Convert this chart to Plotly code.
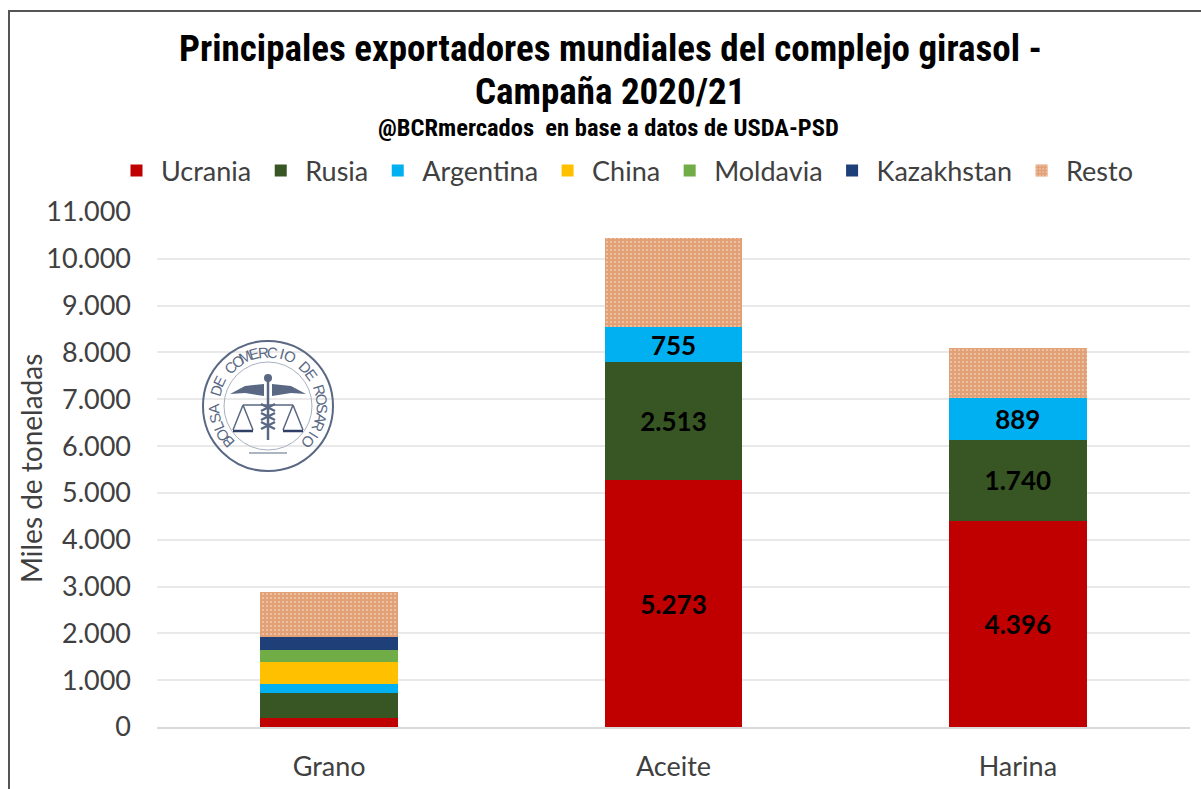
import math
import plotly.graph_objects as go

categories = ["Grano", "Aceite", "Harina"]
ucrania = [200, 5273, 4396]
rusia = [530, 2513, 1740]
argentina = [190, 755, 889]
china = [475, 0, 0]
moldavia = [255, 0, 0]
kazakhstan = [270, 0, 0]
resto = [970, 1904, 1070]
labels_ucrania = ["", "5.273", "4.396"]
labels_rusia = ["", "2.513", "1.740"]
labels_argentina = ["", "755", "889"]
y_ticks = list(range(0, 11001, 1000))

W, H = 1201, 789
L, R, T, B = 157, 11, 212, 62
PW, PH = W - L - R, H - T - B
px = lambda x: (x - L) / PW
py = lambda y: (H - B - y) / PH

TEXT = "#404040"
BODY = "Lato, sans-serif"
COND = "Roboto Condensed, DejaVu Sans Condensed, sans-serif"
fig = go.Figure()
series = [
    ("Ucrania", ucrania, "#C00000", labels_ucrania),
    ("Rusia", rusia, "#375623", labels_rusia),
    ("Argentina", argentina, "#00B0F0", labels_argentina),
    ("China", china, "#FFC000", None),
    ("Moldavia", moldavia, "#70AD47", None),
    ("Kazakhstan", kazakhstan, "#1F3F78", None),
]
for name, vals, col, lab in series:
    fig.add_trace(go.Bar(
        name=name, x=categories, y=vals, marker=dict(color=col, line_width=0),
        text=lab, textposition="inside" if lab else "none", insidetextanchor="middle",
        textangle=0, constraintext="none",
        textfont=dict(family=BODY, size=26, color="black", weight=700),
        hoverinfo="x+y+name",
    ))
fig.add_trace(go.Bar(
    name="Resto", x=categories, y=resto,
    marker=dict(color="#E3A37A", line_width=0,
                pattern=dict(shape=".", fgcolor="#FFF3E8", bgcolor="#E2A076", size=4, solidity=0.2)),
))

shapes = [
    dict(type="line", xref="paper", yref="paper", x0=px(9), x1=px(9), y0=py(11), y1=py(789),
         line=dict(color="#555555", width=2)),
    dict(type="line", xref="paper", yref="paper", x0=px(8), x1=px(1201), y0=py(11), y1=py(11),
         line=dict(color="#555555", width=2)),
]
SEAL = "#5A6884"
cx, cy, r1, r2 = 268, 406, 65, 44
def circle(r, w, c=SEAL):
    return dict(type="circle", xref="paper", yref="paper", x0=px(cx - r), x1=px(cx + r),
                y0=py(cy + r), y1=py(cy - r), line=dict(color=c, width=w))
shapes += [circle(r1, 2), circle(r2, 1, "#A8B0C0")]
def line(x0, y0, x1, y1, w=1.5, c=SEAL):
    return dict(type="line", xref="paper", yref="paper", x0=px(x0), x1=px(x1), y0=py(y0), y1=py(y1),
                line=dict(color=c, width=w))
def poly(points, c=SEAL):
    d = "M " + " L ".join(f"{px(a):.5f} {py(b):.5f}" for a, b in points) + " Z"
    return dict(type="path", xref="paper", yref="paper", path=d, fillcolor=c, line=dict(width=0))
shapes += [
    line(268, 378, 268, 440, 2.5),
    poly([(230, 394), (245, 386), (264, 384), (264, 396), (245, 393)]),
    poly([(306, 394), (291, 386), (272, 384), (272, 396), (291, 393)]),
    circle(0, 0),
    line(243, 405, 293, 405, 1.5),
    line(243, 405, 233, 430), line(243, 405, 253, 430),
    line(293, 405, 283, 430), line(293, 405, 303, 430),
    line(233, 431, 253, 431, 2.5, "#2F3F66"), line(283, 431, 303, 431, 2.5, "#2F3F66"),
    line(249, 453, 287, 453, 1),
    line(261, 404, 275, 411, 2.5), line(275, 404, 261, 411, 2.5),
    line(261, 413, 275, 420, 2.5), line(275, 413, 261, 420, 2.5),
    line(261, 422, 275, 429, 2.5), line(275, 422, 261, 429, 2.5),
    dict(type="circle", xref="paper", yref="paper", x0=px(264), x1=px(272), y0=py(382), y1=py(374),
         fillcolor=SEAL, line=dict(width=0)),
]
shapes = [s for s in shapes if not (s.get("type") == "circle" and s["x0"] == s["x1"])]

annotations = [
    dict(text="Principales exportadores mundiales del complejo girasol -", x=px(610), y=py(48),
         xref="paper", yref="paper", showarrow=False, xanchor="center", yanchor="middle",
         font=dict(family=COND, size=37, color="black", weight=700)),
    dict(text="Campaña 2020/21", x=px(610), y=py(91),
         xref="paper", yref="paper", showarrow=False, xanchor="center", yanchor="middle",
         font=dict(family=COND, size=37, color="black", weight=700)),
    dict(text="@BCRmercados  en base a datos de USDA-PSD", x=px(608), y=py(128), xref="paper", yref="paper",
         showarrow=False, xanchor="center", yanchor="middle",
         font=dict(family=COND, size=24.5, color="black", weight=700)),
    dict(text="Miles de toneladas", x=px(31), y=py(469), xref="paper", yref="paper", showarrow=False,
         xanchor="center", yanchor="middle", textangle=-90, font=dict(family=BODY, size=28, color=TEXT)),
]
seal_text = "BOLSA DE COMERCIO DE ROSARIO"
start, end = 222, -42
for i, ch in enumerate(seal_text):
    a = start + (end - start) * i / (len(seal_text) - 1)
    rad = math.radians(a)
    annotations.append(dict(
        text=ch, showarrow=False, xref="paper", yref="paper",
        x=px(cx + 54 * math.cos(rad)), y=py(cy - 54 * math.sin(rad)),
        xanchor="center", yanchor="middle", textangle=90 - a,
        font=dict(family="Liberation Sans, sans-serif", size=15, color=SEAL)))

fig.update_layout(
    width=W, height=H, autosize=False, barmode="stack", bargap=0.6,
    margin=dict(l=L, r=R, t=T, b=B, autoexpand=False),
    paper_bgcolor="white", plot_bgcolor="white", separators=",.",
    legend=dict(orientation="h", x=px(112), y=py(171), xanchor="left", yanchor="middle",
                font=dict(family=BODY, size=27, color=TEXT), traceorder="normal",
                itemwidth=39, bgcolor="rgba(0,0,0,0)"),
    xaxis=dict(type="category", showline=True, linecolor="#D9D9D9", linewidth=1.5, ticks="",
               tickfont=dict(family=BODY, size=27, color=TEXT), ticklabelstandoff=15),
    yaxis=dict(range=[0, 11000], tickmode="array", tickvals=y_ticks, tickformat=",d", ticks="",
               gridcolor="#E9E9E9", gridwidth=1.5, zeroline=False, showline=False,
               tickfont=dict(family=BODY, size=27, color=TEXT), ticklabelstandoff=25),
    shapes=shapes, annotations=annotations, showlegend=True,
)
fig.write_html("out.html", config=dict(displayModeBar=False),
               post_script="document.body.style.margin='0';document.body.style.overflow='hidden';")
